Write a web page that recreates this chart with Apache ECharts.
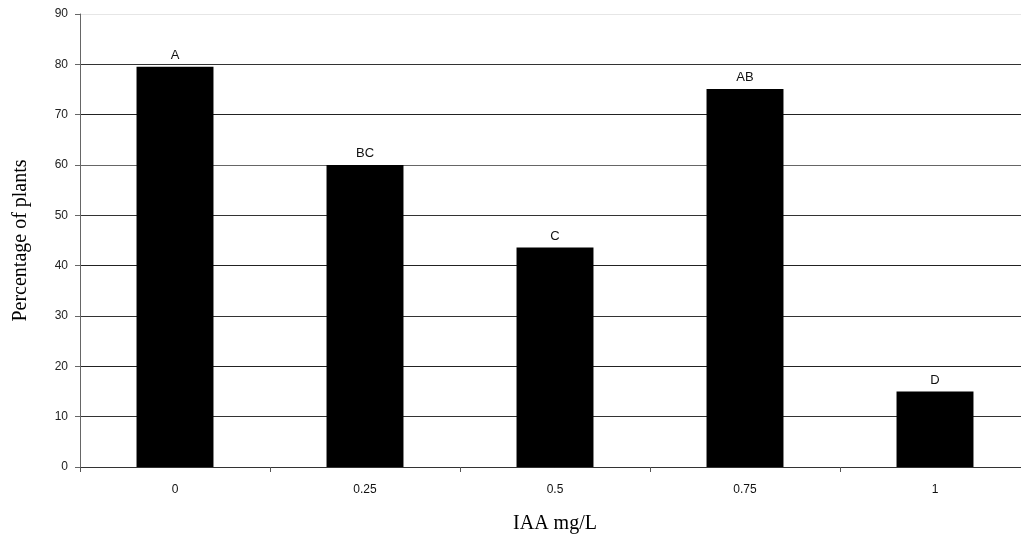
<!DOCTYPE html>
<html>
<head>
<meta charset="utf-8">
<script src="https://cdn.jsdelivr.net/npm/echarts@6/dist/echarts.min.js"></script>
<style>html,body{margin:0;padding:0;background:#fff;overflow:hidden;width:1021px;height:542px;}#c{width:1030px;height:542px;}</style>
</head>
<body>
<div id="c"></div>
<script>
var categories = ['0', '0.25', '0.5', '0.75', '1'];
var values = [79.5, 60, 43.6, 75.1, 15];
var letters = ['A', 'BC', 'C', 'AB', 'D'];
var yTicks = [0, 10, 20, 30, 40, 50, 60, 70, 80, 90];

var chart = echarts.init(document.getElementById('c'));
chart.setOption({
  animation: false,
  backgroundColor: '#fff',
  grid: { left: 80, right: 0, top: 14, bottom: 75 },
  xAxis: {
    type: 'category',
    data: categories,
    name: 'IAA mg/L',
    nameLocation: 'middle',
    nameGap: 47,
    nameTextStyle: { fontFamily: 'Liberation Serif', fontSize: 20, color: '#000' },
    axisLine: { lineStyle: { color: '#333', width: 1 } },
    axisTick: { show: true, length: 5, lineStyle: { color: '#555' } },
    axisLabel: { margin: 17, fontFamily: 'Liberation Sans', fontSize: 12, color: '#111' }
  },
  yAxis: {
    type: 'value',
    min: yTicks[0],
    max: yTicks[yTicks.length - 1],
    interval: 10,
    name: 'Percentage of plants',
    nameLocation: 'middle',
    nameGap: 49,
    nameTextStyle: { fontFamily: 'Liberation Serif', fontSize: 20, color: '#000' },
    axisLine: { show: true, lineStyle: { color: '#666', width: 1 } },
    axisTick: { show: true, length: 5, lineStyle: { color: '#666' } },
    axisLabel: { margin: 12, fontFamily: 'Liberation Sans', fontSize: 12, color: '#222' },
    splitLine: { show: true, lineStyle: { color: ['#222','#333','#222','#333','#222','#333','#666','#222','#333','#e6e6e6'], width: 1 } }
  },
  series: [{
    type: 'bar',
    data: values,
    barWidth: '40.5%',
    itemStyle: { color: '#000' },
    label: {
      show: true,
      position: 'top',
      distance: 5,
      fontFamily: 'Liberation Sans',
      fontSize: 13,
      color: '#111',
      formatter: function (p) { return letters[p.dataIndex]; }
    }
  }]
});
</script>
</body>
</html>
